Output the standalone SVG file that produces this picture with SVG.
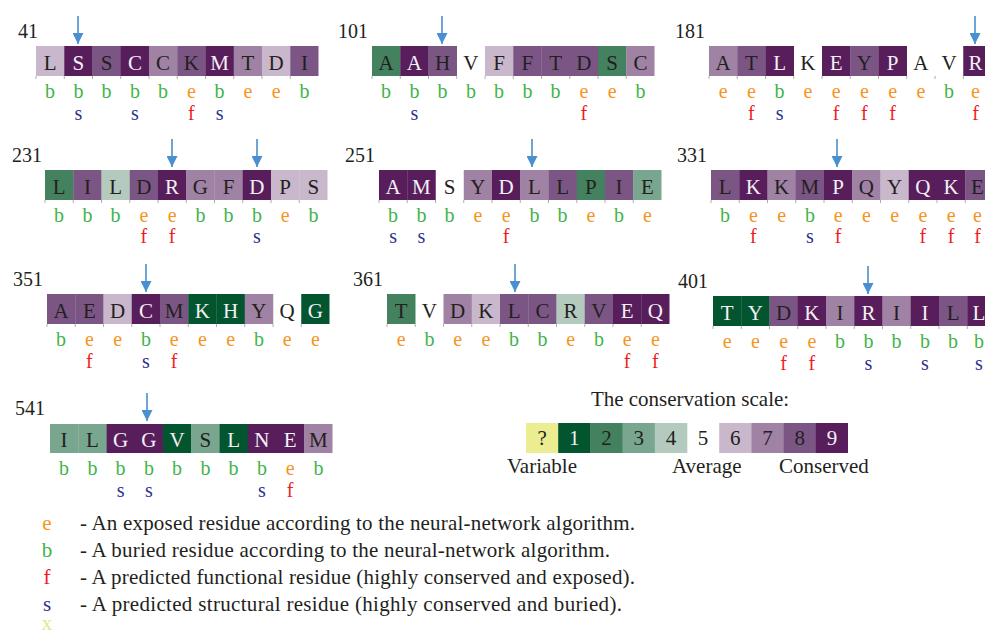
<svg xmlns="http://www.w3.org/2000/svg" width="985" height="633" viewBox="0 0 985 633">
<defs>
<style>
text{font-family:"Liberation Serif","Times New Roman",serif;fill:#231f20}
.res{font-size:21px;text-anchor:middle}
.w{fill:#f4f0f4}
.lab{font-size:20px;text-anchor:middle}
.num{font-size:20px}
.e{fill:#f7941d}.b{fill:#3fb44a}.f{fill:#ed1c24}.s{fill:#2e3192}.x{fill:#e6e68b}
.c1{fill:#02552e}.c2{fill:#44825f}.c3{fill:#79a68e}.c4{fill:#b5cabe}.c6{fill:#c9b8cc}.c7{fill:#9f82a4}.c8{fill:#7b5685}.c9{fill:#581e5c}.cq{fill:#ecec91}
.tk{stroke:#9a9a9a;stroke-width:0.8}
.arr{stroke:#4a8fd0;stroke-width:1.6;fill:none}
.leg{font-size:21px}
.key{font-size:21px}
</style>
<marker id="ah" markerUnits="userSpaceOnUse" markerWidth="12" markerHeight="11" refX="11" refY="5.5" orient="auto">
<path d="M0,0 L11,5.5 L0,11 z" fill="#4a8fd0"/>
</marker>
<g id="ticks">
<path class="tk" d="M0,30v3M28.25,30v3M56.5,30v3M84.75,30v3M113,30v3M141.25,30v3M169.5,30v3M197.75,30v3M226,30v3M254.25,30v3"/>
</g>
</defs>
<rect width="985" height="633" fill="#ffffff"/>

<!-- Block 41 -->
<g id="block41" transform="translate(36,46)">
<text class="num" x="-18" y="-8">41</text>
<rect class="c6" x="0" y="0" width="28.5" height="30"/><rect class="c9" x="28.25" y="0" width="28.5" height="30"/><rect class="c8" x="56.5" y="0" width="28.5" height="30"/><rect class="c9" x="84.75" y="0" width="28.5" height="30"/><rect class="c7" x="113" y="0" width="28.5" height="30"/><rect class="c8" x="141.25" y="0" width="28.5" height="30"/><rect class="c9" x="169.5" y="0" width="28.5" height="30"/><rect class="c7" x="197.75" y="0" width="28.5" height="30"/><rect class="c6" x="226" y="0" width="28.5" height="30"/><rect class="c8" x="254.25" y="0" width="28.25" height="30"/>
<use href="#ticks"/>
<text class="res" x="14.1" y="24">L</text><text class="res w" x="42.4" y="24">S</text><text class="res" x="70.6" y="24">S</text><text class="res w" x="98.9" y="24">C</text><text class="res" x="127.1" y="24">C</text><text class="res" x="155.4" y="24">K</text><text class="res w" x="183.6" y="24">M</text><text class="res" x="211.9" y="24">T</text><text class="res" x="240.1" y="24">D</text><text class="res" x="268.4" y="24">I</text>
<text class="lab b" x="14.1" y="52">b</text><text class="lab b" x="42.4" y="52">b</text><text class="lab b" x="70.6" y="52">b</text><text class="lab b" x="98.9" y="52">b</text><text class="lab b" x="127.1" y="52">b</text><text class="lab e" x="155.4" y="52">e</text><text class="lab b" x="183.6" y="52">b</text><text class="lab e" x="211.9" y="52">e</text><text class="lab e" x="240.1" y="52">e</text><text class="lab b" x="268.4" y="52">b</text>
<text class="lab s" x="42.4" y="74">s</text><text class="lab s" x="98.9" y="74">s</text><text class="lab f" x="155.4" y="74">f</text><text class="lab s" x="183.6" y="74">s</text>
</g>

<!-- Block 101 -->
<g id="block101" transform="translate(372,46)">
<text class="num" x="-34" y="-8">101</text>
<rect class="c2" x="0" y="0" width="28.5" height="30"/><rect class="c9" x="28.25" y="0" width="28.5" height="30"/><rect class="c8" x="56.5" y="0" width="28.5" height="30"/><rect class="c6" x="113" y="0" width="28.5" height="30"/><rect class="c8" x="141.25" y="0" width="28.5" height="30"/><rect class="c8" x="169.5" y="0" width="28.5" height="30"/><rect class="c8" x="197.75" y="0" width="28.5" height="30"/><rect class="c2" x="226" y="0" width="28.5" height="30"/><rect class="c7" x="254.25" y="0" width="28.25" height="30"/>
<use href="#ticks"/>
<text class="res" x="14.1" y="24">A</text><text class="res w" x="42.4" y="24">A</text><text class="res" x="70.6" y="24">H</text><text class="res" x="98.9" y="24">V</text><text class="res" x="127.1" y="24">F</text><text class="res" x="155.4" y="24">F</text><text class="res" x="183.6" y="24">T</text><text class="res" x="211.9" y="24">D</text><text class="res" x="240.1" y="24">S</text><text class="res" x="268.4" y="24">C</text>
<text class="lab b" x="14.1" y="52">b</text><text class="lab b" x="42.4" y="52">b</text><text class="lab b" x="70.6" y="52">b</text><text class="lab b" x="98.9" y="52">b</text><text class="lab b" x="127.1" y="52">b</text><text class="lab b" x="155.4" y="52">b</text><text class="lab b" x="183.6" y="52">b</text><text class="lab e" x="211.9" y="52">e</text><text class="lab e" x="240.1" y="52">e</text><text class="lab b" x="268.4" y="52">b</text>
<text class="lab s" x="42.4" y="74">s</text><text class="lab f" x="211.9" y="74">f</text>
</g>

<!-- Block 181 -->
<g id="block181" transform="translate(709,46)">
<text class="num" x="-34" y="-8">181</text>
<rect class="c7" x="0" y="0" width="28.5" height="30"/><rect class="c8" x="28.25" y="0" width="28.5" height="30"/><rect class="c9" x="56.5" y="0" width="28.5" height="30"/><rect class="c9" x="113" y="0" width="28.5" height="30"/><rect class="c8" x="141.25" y="0" width="28.5" height="30"/><rect class="c9" x="169.5" y="0" width="28.5" height="30"/><rect class="c9" x="254.25" y="0" width="28.25" height="30"/>
<use href="#ticks"/>
<text class="res" x="14.1" y="24">A</text><text class="res" x="42.4" y="24">T</text><text class="res w" x="70.6" y="24">L</text><text class="res" x="98.9" y="24">K</text><text class="res w" x="127.1" y="24">E</text><text class="res" x="155.4" y="24">Y</text><text class="res w" x="183.6" y="24">P</text><text class="res" x="211.9" y="24">A</text><text class="res" x="240.1" y="24">V</text><text class="res w" x="266.5" y="24">R</text>
<text class="lab e" x="14.1" y="52">e</text><text class="lab e" x="42.4" y="52">e</text><text class="lab b" x="70.6" y="52">b</text><text class="lab e" x="98.9" y="52">e</text><text class="lab e" x="127.1" y="52">e</text><text class="lab e" x="155.4" y="52">e</text><text class="lab e" x="183.6" y="52">e</text><text class="lab e" x="211.9" y="52">e</text><text class="lab b" x="240.1" y="52">b</text><text class="lab e" x="266.5" y="52">e</text>
<text class="lab f" x="42.4" y="74">f</text><text class="lab s" x="70.6" y="74">s</text><text class="lab f" x="127.1" y="74">f</text><text class="lab f" x="155.4" y="74">f</text><text class="lab f" x="183.6" y="74">f</text><text class="lab f" x="266.5" y="74">f</text>
</g>

<!-- Block 231 -->
<g id="block231" transform="translate(45,170)">
<text class="num" x="-33" y="-8">231</text>
<rect class="c2" x="0" y="0" width="28.5" height="30"/><rect class="c8" x="28.25" y="0" width="28.5" height="30"/><rect class="c4" x="56.5" y="0" width="28.5" height="30"/><rect class="c8" x="84.75" y="0" width="28.5" height="30"/><rect class="c9" x="113" y="0" width="28.5" height="30"/><rect class="c7" x="141.25" y="0" width="28.5" height="30"/><rect class="c7" x="169.5" y="0" width="28.5" height="30"/><rect class="c9" x="197.75" y="0" width="28.5" height="30"/><rect class="c6" x="226" y="0" width="28.5" height="30"/><rect class="c6" x="254.25" y="0" width="28.25" height="30"/>
<use href="#ticks"/>
<text class="res" x="14.1" y="24">L</text><text class="res" x="42.4" y="24">I</text><text class="res" x="70.6" y="24">L</text><text class="res" x="98.9" y="24">D</text><text class="res w" x="127.1" y="24">R</text><text class="res" x="155.4" y="24">G</text><text class="res" x="183.6" y="24">F</text><text class="res w" x="211.9" y="24">D</text><text class="res" x="240.1" y="24">P</text><text class="res" x="268.4" y="24">S</text>
<text class="lab b" x="14.1" y="52">b</text><text class="lab b" x="42.4" y="52">b</text><text class="lab b" x="70.6" y="52">b</text><text class="lab e" x="98.9" y="52">e</text><text class="lab e" x="127.1" y="52">e</text><text class="lab b" x="155.4" y="52">b</text><text class="lab b" x="183.6" y="52">b</text><text class="lab b" x="211.9" y="52">b</text><text class="lab e" x="240.1" y="52">e</text><text class="lab b" x="268.4" y="52">b</text>
<text class="lab f" x="98.9" y="73">f</text><text class="lab f" x="127.1" y="73">f</text><text class="lab s" x="211.9" y="73">s</text>
</g>

<!-- Block 251 -->
<g id="block251" transform="translate(379,170)">
<text class="num" x="-34" y="-8">251</text>
<rect class="c9" x="0" y="0" width="28.5" height="30"/><rect class="c9" x="28.25" y="0" width="28.5" height="30"/><rect class="c7" x="84.75" y="0" width="28.5" height="30"/><rect class="c9" x="113" y="0" width="28.5" height="30"/><rect class="c7" x="141.25" y="0" width="28.5" height="30"/><rect class="c8" x="169.5" y="0" width="28.5" height="30"/><rect class="c2" x="197.75" y="0" width="28.5" height="30"/><rect class="c8" x="226" y="0" width="28.5" height="30"/><rect class="c3" x="254.25" y="0" width="28.25" height="30"/>
<use href="#ticks"/>
<text class="res w" x="14.1" y="24">A</text><text class="res w" x="42.4" y="24">M</text><text class="res" x="70.6" y="24">S</text><text class="res" x="98.9" y="24">Y</text><text class="res w" x="127.1" y="24">D</text><text class="res" x="155.4" y="24">L</text><text class="res" x="183.6" y="24">L</text><text class="res" x="211.9" y="24">P</text><text class="res" x="240.1" y="24">I</text><text class="res" x="268.4" y="24">E</text>
<text class="lab b" x="14.1" y="52">b</text><text class="lab b" x="42.4" y="52">b</text><text class="lab b" x="70.6" y="52">b</text><text class="lab e" x="98.9" y="52">e</text><text class="lab e" x="127.1" y="52">e</text><text class="lab b" x="155.4" y="52">b</text><text class="lab b" x="183.6" y="52">b</text><text class="lab e" x="211.9" y="52">e</text><text class="lab b" x="240.1" y="52">b</text><text class="lab e" x="268.4" y="52">e</text>
<text class="lab s" x="14.1" y="73">s</text><text class="lab s" x="42.4" y="73">s</text><text class="lab f" x="127.1" y="73">f</text>
</g>

<!-- Block 331 -->
<g id="block331" transform="translate(711,170)">
<text class="num" x="-34" y="-8">331</text>
<rect class="c8" x="0" y="0" width="28.5" height="30"/><rect class="c9" x="28.25" y="0" width="28.5" height="30"/><rect class="c7" x="56.5" y="0" width="28.5" height="30"/><rect class="c8" x="84.75" y="0" width="28.5" height="30"/><rect class="c9" x="113" y="0" width="28.5" height="30"/><rect class="c7" x="141.25" y="0" width="28.5" height="30"/><rect class="c6" x="169.5" y="0" width="28.5" height="30"/><rect class="c9" x="197.75" y="0" width="28.5" height="30"/><rect class="c9" x="226" y="0" width="28.5" height="30"/><rect class="c8" x="254.25" y="0" width="28.25" height="30"/>
<use href="#ticks"/>
<text class="res" x="14.1" y="24">L</text><text class="res w" x="42.4" y="24">K</text><text class="res" x="70.6" y="24">K</text><text class="res" x="98.9" y="24">M</text><text class="res w" x="127.1" y="24">P</text><text class="res" x="155.4" y="24">Q</text><text class="res" x="183.6" y="24">Y</text><text class="res w" x="211.9" y="24">Q</text><text class="res w" x="240.1" y="24">K</text><text class="res" x="266.5" y="24">E</text>
<text class="lab b" x="14.1" y="52">b</text><text class="lab e" x="42.4" y="52">e</text><text class="lab e" x="70.6" y="52">e</text><text class="lab b" x="98.9" y="52">b</text><text class="lab e" x="127.1" y="52">e</text><text class="lab e" x="155.4" y="52">e</text><text class="lab e" x="183.6" y="52">e</text><text class="lab e" x="211.9" y="52">e</text><text class="lab e" x="240.1" y="52">e</text><text class="lab e" x="266.5" y="52">e</text>
<text class="lab f" x="42.4" y="73">f</text><text class="lab s" x="98.9" y="73">s</text><text class="lab f" x="127.1" y="73">f</text><text class="lab f" x="211.9" y="73">f</text><text class="lab f" x="240.1" y="73">f</text><text class="lab f" x="266.5" y="73">f</text>
</g>

<!-- Block 351 -->
<g id="block351" transform="translate(47,294)">
<text class="num" x="-34" y="-8">351</text>
<rect class="c8" x="0" y="0" width="28.5" height="30"/><rect class="c8" x="28.25" y="0" width="28.5" height="30"/><rect class="c6" x="56.5" y="0" width="28.5" height="30"/><rect class="c9" x="84.75" y="0" width="28.5" height="30"/><rect class="c8" x="113" y="0" width="28.5" height="30"/><rect class="c1" x="141.25" y="0" width="28.5" height="30"/><rect class="c1" x="169.5" y="0" width="28.5" height="30"/><rect class="c7" x="197.75" y="0" width="28.5" height="30"/><rect class="c1" x="254.25" y="0" width="28.25" height="30"/>
<use href="#ticks"/>
<text class="res" x="14.1" y="24">A</text><text class="res" x="42.4" y="24">E</text><text class="res" x="70.6" y="24">D</text><text class="res w" x="98.9" y="24">C</text><text class="res" x="127.1" y="24">M</text><text class="res w" x="155.4" y="24">K</text><text class="res w" x="183.6" y="24">H</text><text class="res" x="211.9" y="24">Y</text><text class="res" x="240.1" y="24">Q</text><text class="res w" x="268.4" y="24">G</text>
<text class="lab b" x="14.1" y="52">b</text><text class="lab e" x="42.4" y="52">e</text><text class="lab e" x="70.6" y="52">e</text><text class="lab b" x="98.9" y="52">b</text><text class="lab e" x="127.1" y="52">e</text><text class="lab e" x="155.4" y="52">e</text><text class="lab e" x="183.6" y="52">e</text><text class="lab b" x="211.9" y="52">b</text><text class="lab e" x="240.1" y="52">e</text><text class="lab e" x="268.4" y="52">e</text>
<text class="lab f" x="42.4" y="74">f</text><text class="lab s" x="98.9" y="74">s</text><text class="lab f" x="127.1" y="74">f</text>
</g>

<!-- Block 361 -->
<g id="block361" transform="translate(387,294)">
<text class="num" x="-34" y="-8">361</text>
<rect class="c2" x="0" y="0" width="28.5" height="30"/><rect class="c7" x="56.5" y="0" width="28.5" height="30"/><rect class="c6" x="84.75" y="0" width="28.5" height="30"/><rect class="c8" x="113" y="0" width="28.5" height="30"/><rect class="c8" x="141.25" y="0" width="28.5" height="30"/><rect class="c4" x="169.5" y="0" width="28.5" height="30"/><rect class="c8" x="197.75" y="0" width="28.5" height="30"/><rect class="c9" x="226" y="0" width="28.5" height="30"/><rect class="c9" x="254.25" y="0" width="28.25" height="30"/>
<use href="#ticks"/>
<text class="res" x="14.1" y="24">T</text><text class="res" x="42.4" y="24">V</text><text class="res" x="70.6" y="24">D</text><text class="res" x="98.9" y="24">K</text><text class="res" x="127.1" y="24">L</text><text class="res" x="155.4" y="24">C</text><text class="res" x="183.6" y="24">R</text><text class="res" x="211.9" y="24">V</text><text class="res w" x="240.1" y="24">E</text><text class="res w" x="268.4" y="24">Q</text>
<text class="lab e" x="14.1" y="52">e</text><text class="lab b" x="42.4" y="52">b</text><text class="lab e" x="70.6" y="52">e</text><text class="lab e" x="98.9" y="52">e</text><text class="lab b" x="127.1" y="52">b</text><text class="lab b" x="155.4" y="52">b</text><text class="lab e" x="183.6" y="52">e</text><text class="lab b" x="211.9" y="52">b</text><text class="lab e" x="240.1" y="52">e</text><text class="lab e" x="268.4" y="52">e</text>
<text class="lab f" x="240.1" y="74">f</text><text class="lab f" x="268.4" y="74">f</text>
</g>

<!-- Block 401 -->
<g id="block401" transform="translate(713,296)">
<text class="num" x="-35" y="-8">401</text>
<rect class="c1" x="0" y="0" width="28.5" height="30"/><rect class="c1" x="28.25" y="0" width="28.5" height="30"/><rect class="c8" x="56.5" y="0" width="28.5" height="30"/><rect class="c9" x="84.75" y="0" width="28.5" height="30"/><rect class="c7" x="113" y="0" width="28.5" height="30"/><rect class="c9" x="141.25" y="0" width="28.5" height="30"/><rect class="c7" x="169.5" y="0" width="28.5" height="30"/><rect class="c9" x="197.75" y="0" width="28.5" height="30"/><rect class="c8" x="226" y="0" width="28.5" height="30"/><rect class="c9" x="254.25" y="0" width="28.25" height="30"/>
<use href="#ticks"/>
<text class="res w" x="14.1" y="24">T</text><text class="res w" x="42.4" y="24">Y</text><text class="res" x="70.6" y="24">D</text><text class="res w" x="98.9" y="24">K</text><text class="res" x="127.1" y="24">I</text><text class="res w" x="155.4" y="24">R</text><text class="res" x="183.6" y="24">I</text><text class="res w" x="211.9" y="24">I</text><text class="res" x="240.1" y="24">L</text><text class="res w" x="266" y="24">L</text>
<text class="lab e" x="14.1" y="52">e</text><text class="lab e" x="42.4" y="52">e</text><text class="lab e" x="70.6" y="52">e</text><text class="lab e" x="98.9" y="52">e</text><text class="lab b" x="127.1" y="52">b</text><text class="lab b" x="155.4" y="52">b</text><text class="lab b" x="183.6" y="52">b</text><text class="lab b" x="211.9" y="52">b</text><text class="lab b" x="240.1" y="52">b</text><text class="lab b" x="266" y="52">b</text>
<text class="lab f" x="70.6" y="74">f</text><text class="lab f" x="98.9" y="74">f</text><text class="lab s" x="155.4" y="74">s</text><text class="lab s" x="211.9" y="74">s</text><text class="lab s" x="266" y="74">s</text>
</g>

<!-- Block 541 -->
<g id="block541" transform="translate(50,424)">
<text class="num" x="-35" y="-9">541</text>
<rect class="c3" x="0" y="0" width="28.5" height="29"/><rect class="c3" x="28.25" y="0" width="28.5" height="29"/><rect class="c9" x="56.5" y="0" width="28.5" height="29"/><rect class="c9" x="84.75" y="0" width="28.5" height="29"/><rect class="c1" x="113" y="0" width="28.5" height="29"/><rect class="c3" x="141.25" y="0" width="28.5" height="29"/><rect class="c1" x="169.5" y="0" width="28.5" height="29"/><rect class="c9" x="197.75" y="0" width="28.5" height="29"/><rect class="c9" x="226" y="0" width="28.5" height="29"/><rect class="c7" x="254.25" y="0" width="28.25" height="29"/>
<text class="res" x="14.1" y="23">I</text><text class="res" x="42.4" y="23">L</text><text class="res w" x="70.6" y="23">G</text><text class="res w" x="98.9" y="23">G</text><text class="res w" x="127.1" y="23">V</text><text class="res" x="155.4" y="23">S</text><text class="res w" x="183.6" y="23">L</text><text class="res w" x="211.9" y="23">N</text><text class="res w" x="240.1" y="23">E</text><text class="res" x="268.4" y="23">M</text>
<text class="lab b" x="14.1" y="51">b</text><text class="lab b" x="42.4" y="51">b</text><text class="lab b" x="70.6" y="51">b</text><text class="lab b" x="98.9" y="51">b</text><text class="lab b" x="127.1" y="51">b</text><text class="lab b" x="155.4" y="51">b</text><text class="lab b" x="183.6" y="51">b</text><text class="lab b" x="211.9" y="51">b</text><text class="lab e" x="240.1" y="51">e</text><text class="lab b" x="268.4" y="51">b</text>
<text class="lab s" x="70.6" y="73">s</text><text class="lab s" x="98.9" y="73">s</text><text class="lab s" x="211.9" y="73">s</text><text class="lab f" x="240.1" y="73">f</text>
</g>

<!-- Arrows -->
<g id="connectors">
<path class="arr" marker-end="url(#ah)" d="M78,16V44"/>
<path class="arr" marker-end="url(#ah)" d="M442,16V44"/>
<path class="arr" marker-end="url(#ah)" d="M975,16V44"/>
<path class="arr" marker-end="url(#ah)" d="M172,139V167"/>
<path class="arr" marker-end="url(#ah)" d="M257,139V167"/>
<path class="arr" marker-end="url(#ah)" d="M532,139V167"/>
<path class="arr" marker-end="url(#ah)" d="M837,139V167"/>
<path class="arr" marker-end="url(#ah)" d="M146,264V292"/>
<path class="arr" marker-end="url(#ah)" d="M515,264V292"/>
<path class="arr" marker-end="url(#ah)" d="M868,266V294"/>
<path class="arr" marker-end="url(#ah)" d="M147,393V421"/>
</g>

<!-- Conservation scale legend -->
<g id="scale">
<text class="leg" x="690" y="406" text-anchor="middle">The conservation scale:</text>
<rect class="cq" x="526" y="423" width="32.5" height="30"/>
<rect class="c1" x="558.2" y="423" width="32.5" height="30"/>
<rect class="c2" x="590.4" y="423" width="32.5" height="30"/>
<rect class="c3" x="622.6" y="423" width="32.5" height="30"/>
<rect class="c4" x="654.8" y="423" width="32.5" height="30"/>
<rect class="c6" x="719.2" y="423" width="32.5" height="30"/>
<rect class="c7" x="751.4" y="423" width="32.5" height="30"/>
<rect class="c8" x="783.6" y="423" width="32.5" height="30"/>
<rect class="c9" x="815.8" y="423" width="32.2" height="30"/>
<text class="res" x="542.1" y="445">?</text>
<text class="res w" x="574.3" y="445">1</text>
<text class="res" x="606.5" y="445">2</text>
<text class="res" x="638.7" y="445">3</text>
<text class="res" x="670.9" y="445">4</text>
<text class="res" x="703.1" y="445">5</text>
<text class="res" x="735.3" y="445">6</text>
<text class="res" x="767.5" y="445">7</text>
<text class="res" x="799.7" y="445">8</text>
<text class="res w" x="831.9" y="445">9</text>
<text class="leg" x="507" y="473">Variable</text>
<text class="leg" x="672" y="473">Average</text>
<text class="leg" x="779" y="473">Conserved</text>
</g>

<!-- Key legend -->
<g id="key">
<text class="key e" x="47" y="530" text-anchor="middle">e</text>
<text class="key" x="80" y="530" textLength="555" lengthAdjust="spacing">- An exposed residue according to the neural-network algorithm.</text>
<text class="key b" x="47" y="557" text-anchor="middle">b</text>
<text class="key" x="80" y="557" textLength="530" lengthAdjust="spacing">- A buried residue according to the neural-network algorithm.</text>
<text class="key f" x="47" y="584" text-anchor="middle">f</text>
<text class="key" x="80" y="584" textLength="555" lengthAdjust="spacing">- A predicted functional residue (highly conserved and exposed).</text>
<text class="key s" x="47" y="611" text-anchor="middle">s</text>
<text class="key" x="80" y="611" textLength="542" lengthAdjust="spacing">- A predicted structural residue (highly conserved and buried).</text>
<text class="key x" x="47" y="630" text-anchor="middle">x</text>
</g>
</svg>
